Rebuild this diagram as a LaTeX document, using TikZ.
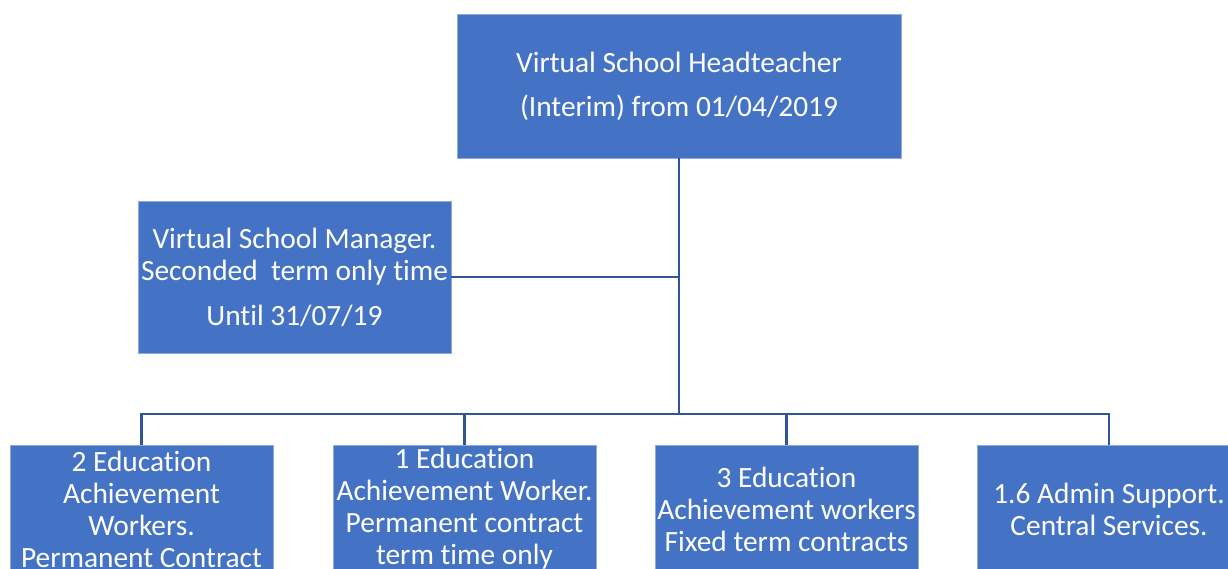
\documentclass[tikz,border=0pt]{standalone}
\usepackage{fontspec}
\setmainfont{Carlito}[Ligatures=NoCommon]
\definecolor{boxblue}{HTML}{4472C4}
\definecolor{linkblue}{HTML}{2F5597}
\begin{document}
\begin{tikzpicture}[x=1pt,y=-1pt,
  orgbox/.style={fill=boxblue,draw=boxblue!60!white,line width=0.6pt,text=white,align=center,inner sep=0pt,
    font=\fontsize{29.4}{32}\selectfont},
  link/.style={draw=linkblue,line width=2.6pt}]
\useasboundingbox (0,0) rectangle (1228,569);
\clip (0,0) rectangle (1228,569);
\node[orgbox,minimum width=444,minimum height=144,font=\fontsize{29.4}{44}\selectfont] (top) at (679,86) {Virtual School Headteacher\\(Interim) from 01/04/2019};
\node[orgbox,minimum width=313,minimum height=152] (mgr) at (294.5,277) {Virtual School Manager.\\Seconded\ \ term only time\\[13pt]Until 31/07/19};
\node[orgbox,minimum width=263,minimum height=128] (b1) at (141.5,509) {2 Education\\Achievement\\Workers.\\Permanent Contract};
\node[orgbox,minimum width=263,minimum height=128] (b2) at (464.5,509) {1 Education\\Achievement Worker.\\Permanent contract\\term time only};
\node[orgbox,minimum width=263,minimum height=128] (b3) at (786.5,509) {3 Education\\Achievement workers\\Fixed term contracts};
\node[orgbox,minimum width=264,minimum height=128] (b4) at (1109,509) {1.6 Admin Support.\\Central Services.};
\coordinate (j) at (679,414);
\draw[link] (top.south) -- (j);
\draw[link] (mgr.east) -- (mgr.east -| top.south);
\draw[link] (b1.north) -- (b1.north |- j) -| (b4.north);
\draw[link] (b2.north) -- (b2.north |- j);
\draw[link] (b3.north) -- (b3.north |- j);
\end{tikzpicture}
\end{document}
